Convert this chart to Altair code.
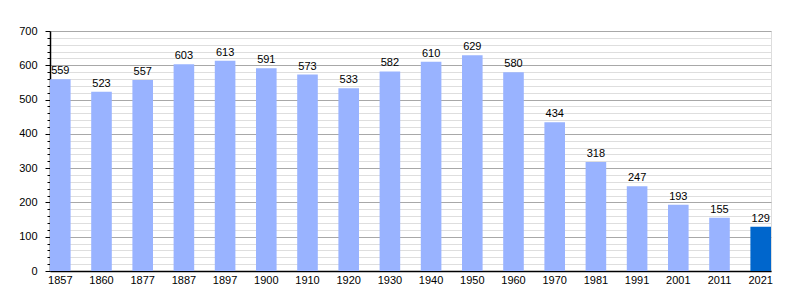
import altair as alt
import pandas as pd

years = ["1857", "1860", "1877", "1887", "1897", "1900", "1910", "1920", "1930",
         "1940", "1950", "1960", "1970", "1981", "1991", "2001", "2011", "2021"]
population = [559, 523, 557, 603, 613, 591, 573, 533, 582,
              610, 629, 580, 434, 318, 247, 193, 155, 129]
highlight = [False] * 17 + [True]

df = pd.DataFrame({"year": years, "pop": population, "last": highlight})

tick_values = list(range(0, 701, 20))
FONT = "Liberation Sans"

x = alt.X("year:N", sort=None, title=None,
          scale=alt.Scale(paddingInner=0.5, paddingOuter=0),
          axis=alt.Axis(labelAngle=0, ticks=False, labelPadding=3,
                        labelFontSize=11, labelColor="#000", labelFont=FONT,
                        domainColor="#000", domainWidth=1.5))
y = alt.Y("pop:Q", title=None,
          scale=alt.Scale(domain=[0, 700], nice=False, zero=True),
          axis=alt.Axis(values=tick_values,
                        labelExpr="datum.value % 100 === 0 ? datum.label : ''",
                        grid=True,
                        gridColor=alt.condition("datum.value % 100 === 0",
                                                alt.value("#a8a8a8"), alt.value("#dedede")),
                        tickSize=alt.condition("datum.value % 100 === 0",
                                               alt.value(5), alt.value(3)),
                        tickColor="#000", labelPadding=8,
                        labelFontSize=11, labelColor="#000", labelFont=FONT,
                        domainColor="#000", domainWidth=1.5))

base = alt.Chart(df).encode(x=x, y=y)

bars = base.mark_bar().encode(
    color=alt.Color("last:N", scale=alt.Scale(domain=[False, True],
                                              range=["#99b3ff", "#0066cc"]),
                    legend=None),
)

labels = base.mark_text(baseline="bottom", dy=-3, fontSize=11,
                        font=FONT, color="#000").encode(text="pop:Q")

chart = (bars + labels).properties(
    width=721, height=240,
    padding={"left": 50, "top": 31, "right": 29, "bottom": 29},
    autosize="none",
).configure_view(stroke=None).configure(background="#ffffff")

chart.save("out.html", embed_options={"renderer": "svg", "actions": False})
